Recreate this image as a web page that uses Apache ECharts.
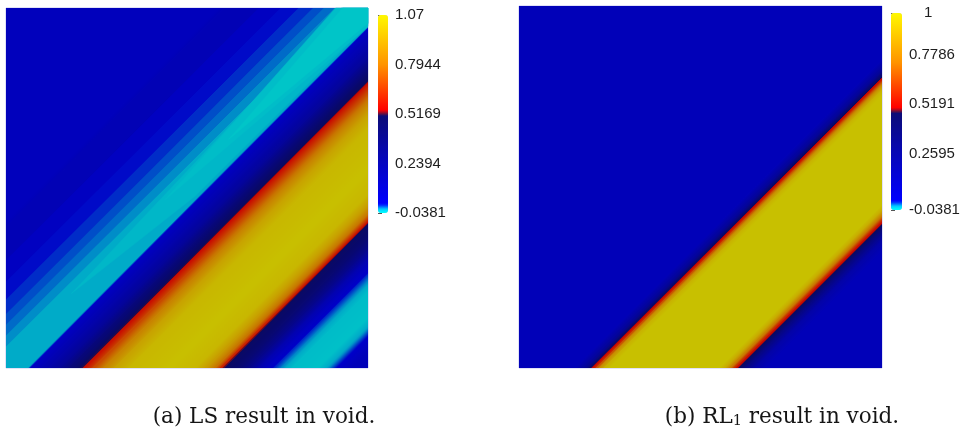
<!DOCTYPE html>
<html>
<head>
<meta charset="utf-8">
<script src="https://cdn.jsdelivr.net/npm/echarts@6/dist/echarts.min.js"></script>
<style>
  html, body { margin: 0; padding: 0; background: #ffffff; }
  #chart { width: 966px; height: 432px; }
</style>
</head>
<body>
<div id="chart"></div>
<script>
// ---- Scalar ranges of the two fields ----
const lsRange = [-0.0381, 1.0719];
const rlRange = [-0.0381, 1.0];

// ---- Colour-bar tick labels ----
const lsBarValues = [-0.0381, 0.2394, 0.5169, 0.7944, 1.0719];
const lsBarLabels = ['-0.0381', '0.2394', '0.5169', '0.7944', '1.07'];
const rlBarValues = [-0.0381, 0.2595, 0.5191, 0.7786, 1.0];
const rlBarLabels = ['-0.0381', '0.2595', '0.5191', '0.7786', '1'];

// ---- LS field: profile across the diagonal (s = x - y); equal neighbours give flat contour steps ----
const lsKnotS = [-1.00, -0.41, -0.39, -0.30, -0.298, -0.24, -0.238, -0.19, -0.188, -0.15,
                 -0.148, -0.12, -0.118, -0.09, -0.088, -0.06, -0.058, 0.055, 0.072, 0.10,
                 0.14, 0.175, 0.200, 0.207, 0.214, 0.24, 0.27, 0.30, 0.34, 0.45,
                 0.52, 0.55, 0.575, 0.592, 0.600, 0.606, 0.64, 0.67, 0.70, 0.72,
                 0.74, 0.76, 0.79, 0.86, 0.89, 0.92, 0.95, 1.00];
const lsValues = [0.07, 0.07, 0.10, 0.10, 0.045, 0.045, 0.010, 0.010, 0.004, 0.004,
                  -0.002, -0.002, -0.007, -0.007, -0.013, -0.013, -0.019, -0.019, 0.06, 0.12,
                  0.22, 0.38, 0.48, 0.51, 0.57, 0.70, 0.85, 0.96, 1.03, 1.06,
                  1.03, 0.94, 0.80, 0.62, 0.52, 0.48, 0.42, 0.30, 0.12, 0.05,
                  0.005, -0.012, -0.030, -0.033, -0.015, 0.02, 0.08, 0.09];

// ---- LS field: brighter cyan cores, each between two straight boundaries ----
// boundaries are given by their s value at t = 1 and t = 2 (t = x + y); cap limits the lower-right side
const lsCoreLeftT1  = [-0.045, -0.0338, -0.0017];
const lsCoreLeftT2  = [-0.076, -0.095, -0.075];
const lsCoreRightT1 = [0.045, -0.0209, -0.0417];
const lsCoreRightT2 = [0.161, 0.055, 0.045];
const lsCoreCap     = [0.045, 0.055, 0.045];
const lsCoreValue   = [-0.027, -0.031, -0.036];

// ---- RL1 field: profile across the diagonal ----
const rlKnotS = [-1.00, 0.150, 0.180, 0.195, 0.201, 0.206, 0.213, 0.222, 0.235, 0.250,
                 0.550, 0.565, 0.580, 0.592, 0.599, 0.606, 0.625, 0.650, 0.680, 1.00];
const rlValues = [0.08, 0.08, 0.22, 0.42, 0.50, 0.56, 0.68, 0.84, 0.95, 0.99,
                  0.99, 0.93, 0.78, 0.60, 0.52, 0.46, 0.30, 0.15, 0.08, 0.08];

// ---- Colour map (normalised position -> colour) ----
const cmapPos = [0, 0.018, 0.045, 0.49, 0.502, 0.518, 0.75, 1];
const cmapHex = ['#00ffff', '#00d8ff', '#0000ff', '#0c0c78', '#701038', '#ff0000', '#ff9400', '#fff800'];
const surfaceShade = 0.785;

function hexRgb(h) {
  return [parseInt(h.slice(1, 3), 16), parseInt(h.slice(3, 5), 16), parseInt(h.slice(5, 7), 16)];
}
const cmapRgb = cmapHex.map(hexRgb);

function cmapAt(p, shade) {
  p = Math.max(0, Math.min(1, p));
  let i = 0;
  while (i < cmapPos.length - 2 && p > cmapPos[i + 1]) i++;
  const f = (p - cmapPos[i]) / (cmapPos[i + 1] - cmapPos[i]);
  const a = cmapRgb[i], b = cmapRgb[i + 1];
  const c = [0, 1, 2].map(k => Math.round((a[k] + (b[k] - a[k]) * f) * shade));
  return 'rgb(' + c.join(',') + ')';
}

function barColors() {
  const out = [];
  for (let k = 0; k <= 200; k++) out.push(cmapAt(k / 200, 1));
  return out;
}

const ranges = [lsRange, rlRange];
const surfaceColor = (v, panel) => cmapAt((v - ranges[panel][0]) / (ranges[panel][1] - ranges[panel][0]), surfaceShade);

// ---- Geometry helpers ----
function clipHalf(poly, a, b, c) {
  // keep the part where a*x + b*y >= c
  const out = [];
  for (let i = 0; i < poly.length; i++) {
    const p = poly[i], q = poly[(i + 1) % poly.length];
    const fp = a * p[0] + b * p[1] - c, fq = a * q[0] + b * q[1] - c;
    if (fp >= 0) out.push(p);
    if ((fp >= 0) !== (fq >= 0)) {
      const r = fp / (fp - fq);
      out.push([p[0] + (q[0] - p[0]) * r, p[1] + (q[1] - p[1]) * r]);
    }
  }
  return out;
}
const toXY = (s, t) => [(t + s) / 2, (t - s) / 2];
const unitSquare = () => [[0, 0], [1, 0], [1, 1], [0, 1]];

// ---- Diagonal strips: one item per pair of neighbouring knots ----
function buildStrips(knotS, values, panel) {
  const items = [];
  for (let i = 0; i < knotS.length - 1; i++) {
    items.push([knotS[i], knotS[i + 1], values[i], values[i + 1], panel]);
  }
  return items;
}

function renderStrip(params, api) {
  const sLo = api.value(0), sHi = api.value(1), vLo = api.value(2), vHi = api.value(3), panel = api.value(4);
  const eps = 0.002;
  let poly = unitSquare();
  poly = clipHalf(poly, 1, -1, sLo - eps);
  poly = clipHalf(poly, -1, 1, -(sHi + eps));
  if (poly.length < 3) return null;
  const pts = poly.map(p => api.coord(p));
  let fill;
  if (vLo === vHi) {
    fill = surfaceColor(vLo, panel);
  } else {
    const p0 = api.coord(toXY(sLo, 1));
    const p1 = api.coord(toXY(sHi, 1));
    const stops = [];
    const n = 12;
    for (let k = 0; k <= n; k++) {
      stops.push({ offset: k / n, color: surfaceColor(vLo + (vHi - vLo) * k / n, panel) });
    }
    fill = { type: 'linear', x: p0[0], y: p0[1], x2: p1[0], y2: p1[1], global: true, colorStops: stops };
  }
  return { type: 'polygon', shape: { points: pts }, style: { fill: fill } };
}

// ---- Cyan cores between two slanted boundaries ----
function buildCores() {
  return lsCoreValue.map((v, i) => [lsCoreLeftT1[i], lsCoreLeftT2[i], lsCoreRightT1[i], lsCoreRightT2[i],
                                    lsCoreCap[i], v, 0]);
}

function renderCore(params, api) {
  const l1 = api.value(0), l2 = api.value(1), r1 = api.value(2), r2 = api.value(3);
  const cap = api.value(4), v = api.value(5), panel = api.value(6);
  const kl = l2 - l1, kr = r2 - r1;
  let poly = unitSquare();
  // s >= l1 + kl (t - 1)
  poly = clipHalf(poly, 1 - kl, -(1 + kl), l1 - kl);
  // s <= r1 + kr (t - 1)
  poly = clipHalf(poly, -(1 - kr), 1 + kr, -(r1 - kr));
  // s <= cap
  poly = clipHalf(poly, -1, 1, -cap);
  if (poly.length < 3) return null;
  return { type: 'polygon', shape: { points: poly.map(p => api.coord(p)) },
           style: { fill: surfaceColor(v, panel), stroke: surfaceColor(v, panel), lineWidth: 0.5 } };
}

const lsData = buildStrips(lsKnotS, lsValues, 0);
const rlData = buildStrips(rlKnotS, rlValues, 1);
const lsCoreData = buildCores();

function barAxis(gridIndex, range, values, labels, topPad) {
  const ticks = [];
  for (let k = 0; k <= 40; k++) ticks.push(range[0] + (range[1] - range[0]) * k / 40);
  return {
    type: 'value', gridIndex: gridIndex, position: 'right', min: range[0], max: range[1],
    axisLine: { show: false },
    splitLine: { show: false },
    axisTick: { show: true, customValues: ticks, length: 4, lineStyle: { color: '#555', width: 1 } },
    axisLabel: {
      show: true, customValues: values, margin: 7, showMinLabel: true, showMaxLabel: true,
      color: '#1e1e1e', fontSize: 15, fontFamily: 'Liberation Sans',
      formatter: function (v) {
        let best = 0;
        for (let i = 1; i < values.length; i++) {
          if (Math.abs(values[i] - v) < Math.abs(values[best] - v)) best = i;
        }
        return best === values.length - 1 && topPad ? '{top|' + labels[best] + '}' : labels[best];
      },
      rich: { top: { fontSize: 15, fontFamily: 'Liberation Sans', color: '#1e1e1e', padding: [0, 0, 0, topPad || 0] } }
    }
  };
}

const hiddenAxis = (gridIndex) => ({ type: 'value', gridIndex: gridIndex, min: 0, max: 1, show: false });
const captionStyle = {
  fontFamily: 'DejaVu Serif', fontSize: 21.5, fontWeight: 'normal', color: '#151515', lineHeight: 24,
  rich: { sub: { fontFamily: 'DejaVu Serif', fontSize: 14.5, color: '#151515', lineHeight: 12, verticalAlign: 'bottom' } }
};
const frame = { show: true, borderColor: 'rgba(120,120,225,0.45)', borderWidth: 1, backgroundColor: 'transparent' };

const chart = echarts.init(document.getElementById('chart'), null, { renderer: 'canvas' });
chart.setOption({
  animation: false,
  backgroundColor: '#ffffff',
  title: [
    { text: '(a) LS result in void.', left: 264, top: 405, textAlign: 'center', padding: 0, textStyle: captionStyle },
    { text: '(b) RL{sub|1} result in void.', left: 782, top: 405, textAlign: 'center', padding: 0, textStyle: captionStyle }
  ],
  grid: [
    Object.assign({ left: 6, top: 8, width: 362, height: 360 }, frame),
    Object.assign({ left: 519, top: 6, width: 363, height: 362 }, frame),
    { left: 378, top: 15, width: 10, height: 198, show: false },
    { left: 891, top: 13, width: 11, height: 197, show: false }
  ],
  xAxis: [hiddenAxis(0), hiddenAxis(1), hiddenAxis(2), hiddenAxis(3)],
  yAxis: [
    hiddenAxis(0), hiddenAxis(1),
    barAxis(2, lsRange, lsBarValues, lsBarLabels, 0),
    barAxis(3, rlRange, rlBarValues, rlBarLabels, 15)
  ],
  visualMap: [
    { type: 'continuous', seriesIndex: [], min: lsRange[0], max: lsRange[1], calculable: false,
      orient: 'vertical', left: 378, top: 15, itemWidth: 10, itemHeight: 198, padding: 0,
      text: null, inRange: { color: barColors() } },
    { type: 'continuous', seriesIndex: [], min: rlRange[0], max: rlRange[1], calculable: false,
      orient: 'vertical', left: 891, top: 13, itemWidth: 11, itemHeight: 197, padding: 0,
      text: null, inRange: { color: barColors() } }
  ],
  series: [
    { type: 'custom', name: 'LS', xAxisIndex: 0, yAxisIndex: 0, clip: false,
      renderItem: renderStrip, data: lsData, silent: true },
    { type: 'custom', name: 'LS cores', xAxisIndex: 0, yAxisIndex: 0, clip: false,
      renderItem: renderCore, data: lsCoreData, silent: true },
    { type: 'custom', name: 'RL1', xAxisIndex: 1, yAxisIndex: 1, clip: false,
      renderItem: renderStrip, data: rlData, silent: true }
  ]
});
</script>
</body>
</html>
